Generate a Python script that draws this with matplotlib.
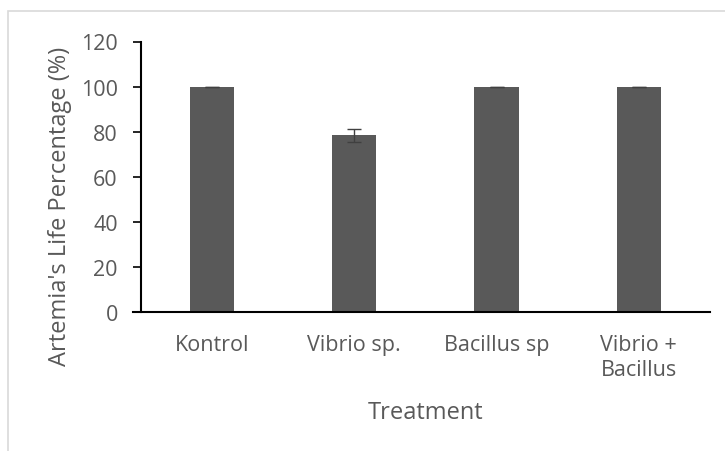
import matplotlib.pyplot as plt
from matplotlib.patches import Rectangle

plt.rcParams['font.family'] = ['Open Sans', 'DejaVu Sans']

# data
treatments = ['Kontrol', 'Vibrio sp.', 'Bacillus sp', 'Vibrio +\nBacillus']
life_pct = [100, 78.3, 100, 100]
life_err = [0, 3.0, 0, 0]
yticks = [0, 20, 40, 60, 80, 100, 120]

textColor = '#595959'
barColor = '#595959'

fig = plt.figure(figsize=(7.25, 4.52), dpi=100)
ax = fig.add_axes([140.7 / 725, 1 - 313 / 452, (710 - 140.7) / 725, (313 - 42.5) / 452])

# light chart-area border (cut off at right/bottom in the original)
fig.patches.append(Rectangle((7.5 / 725, -0.1), 1.2, 1 - 12.3 / 452 + 0.1,
                             transform=fig.transFigure, fill=False,
                             edgecolor='#d9d9d9', linewidth=1.2))

x = range(len(treatments))
ax.bar(x, life_pct, width=0.31, color=barColor, zorder=2)
ax.errorbar(x, life_pct, yerr=life_err, fmt='none', ecolor='#404040',
            elinewidth=1, capsize=4.7, capthick=1, zorder=3)

ax.set_xlim(-0.5, len(treatments) - 0.5)
ax.set_ylim(0, 120)
ax.set_yticks(yticks)
ax.set_xticks(list(x))
ax.set_xticklabels(treatments, linespacing=1.3)

for s in ['top', 'right']:
    ax.spines[s].set_visible(False)
ax.spines['left'].set_linewidth(1.5)
ax.spines['bottom'].set_linewidth(1.5)
ax.spines['bottom'].set_bounds(-0.5 - 7.6 / 142.3, len(treatments) - 0.5)

ax.tick_params(axis='y', direction='out', length=5.5, width=1.2, pad=11,
               labelsize=15.5, labelcolor=textColor)
ax.tick_params(axis='x', length=0, pad=15.5, labelsize=15.5, labelcolor=textColor)

ax.set_ylabel("Artemia's Life Percentage (%)", fontsize=17, color=textColor)
ax.yaxis.set_label_coords(-0.12, 0.394)
ax.set_xlabel('Treatment', fontsize=17, color=textColor)
ax.xaxis.set_label_coords(0.5, -0.325)

fig.savefig('out.png', dpi=100)
